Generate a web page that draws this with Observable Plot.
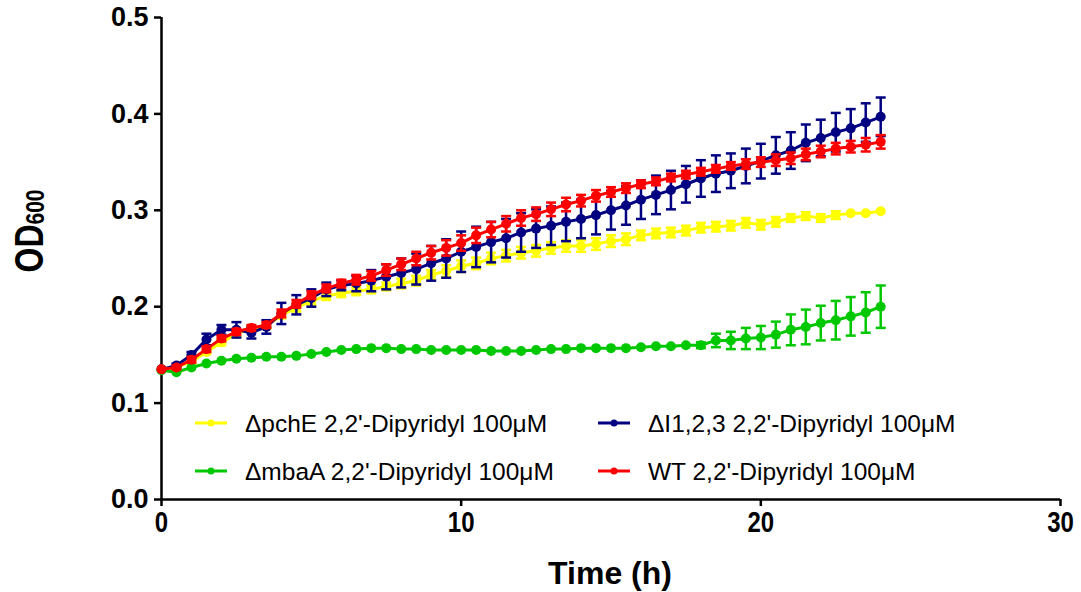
<!DOCTYPE html>
<html><head><meta charset="utf-8">
<script src="https://cdn.jsdelivr.net/npm/d3@7"></script>
<script src="https://cdn.jsdelivr.net/npm/@observablehq/plot@0.6"></script>
<style>body{margin:0;background:#fff;} svg{display:block;}</style>
</head><body><div id="chart"></div>
<script>
// Time points (h)
const time = [0,0.5,1,1.5,2,2.5,3,3.5,4,4.5,5,5.5,6,6.5,7,7.5,8,8.5,9,9.5,10,10.5,11,11.5,12,12.5,13,13.5,14,14.5,15,15.5,16,16.5,17,17.5,18,18.5,19,19.5,20,20.5,21,21.5,22,22.5,23,23.5,24];

// ΔpchE (yellow)
const pchE = [0.135,0.137,0.143,0.153,0.163,0.172,0.177,0.180,0.191,0.199,0.206,0.211,0.214,0.216,0.218,0.221,0.224,0.227,0.233,0.237,0.242,0.245,0.250,0.253,0.256,0.258,0.261,0.263,0.263,0.265,0.268,0.270,0.274,0.276,0.277,0.279,0.282,0.283,0.284,0.287,0.285,0.288,0.292,0.294,0.292,0.295,0.297,0.297,0.299];
const pchE_err = [0,0.001,0.002,0.002,0.003,0.003,0.003,0.003,0.003,0.004,0.004,0.004,0.004,0.004,0.004,0.004,0.005,0.005,0.005,0.006,0.006,0.006,0.006,0.006,0.006,0.006,0.006,0.006,0.006,0.006,0.006,0.006,0.005,0.005,0.005,0.005,0.005,0.005,0.005,0.005,0.005,0.005,0.004,0.004,0.004,0.004,0,0,0];

// ΔI1,2,3 (navy)
const dI123 = [0.135,0.139,0.150,0.166,0.176,0.176,0.173,0.179,0.193,0.202,0.209,0.218,0.222,0.224,0.227,0.231,0.235,0.239,0.245,0.250,0.257,0.262,0.267,0.271,0.277,0.281,0.284,0.288,0.291,0.295,0.300,0.305,0.311,0.316,0.321,0.327,0.333,0.338,0.341,0.346,0.351,0.357,0.362,0.370,0.375,0.381,0.385,0.391,0.397];
const dI123_err = [0,0.002,0.003,0.006,0.005,0.008,0.006,0.007,0.011,0.010,0.009,0.007,0.005,0.008,0.011,0.013,0.015,0.016,0.018,0.020,0.021,0.021,0.021,0.020,0.020,0.020,0.020,0.020,0.020,0.020,0.020,0.020,0.020,0.020,0.020,0.019,0.019,0.019,0.018,0.018,0.018,0.019,0.019,0.019,0.019,0.020,0.020,0.020,0.020];

// ΔmbaA (green)
const mbaA = [0.134,0.132,0.137,0.141,0.144,0.146,0.147,0.148,0.148,0.149,0.151,0.153,0.155,0.156,0.157,0.157,0.156,0.156,0.155,0.155,0.155,0.155,0.154,0.154,0.154,0.155,0.156,0.156,0.157,0.157,0.157,0.157,0.158,0.159,0.159,0.160,0.160,0.165,0.165,0.167,0.168,0.171,0.176,0.179,0.183,0.186,0.190,0.194,0.200];
const mbaA_err = [0,0,0,0,0,0,0,0,0,0,0,0,0,0,0,0,0,0,0,0,0,0,0,0,0,0,0,0,0,0,0,0,0,0,0,0,0.003,0.007,0.009,0.011,0.012,0.0135,0.016,0.018,0.018,0.020,0.020,0.021,0.022];

// WT (red)
const wt = [0.135,0.137,0.145,0.156,0.167,0.174,0.178,0.181,0.193,0.203,0.212,0.219,0.224,0.228,0.232,0.238,0.244,0.250,0.256,0.261,0.266,0.274,0.280,0.286,0.292,0.296,0.301,0.306,0.310,0.315,0.319,0.323,0.327,0.330,0.334,0.337,0.340,0.343,0.346,0.348,0.350,0.352,0.354,0.358,0.361,0.364,0.366,0.368,0.371];
const wt_err = [0,0.002,0.003,0.003,0.003,0.003,0.003,0.003,0.004,0.004,0.004,0.004,0.004,0.005,0.005,0.006,0.006,0.007,0.007,0.008,0.008,0.008,0.008,0.008,0.008,0.007,0.007,0.007,0.006,0.006,0.005,0.005,0.004,0.004,0.004,0.004,0.004,0.004,0.004,0.005,0.005,0.006,0.006,0.006,0.006,0.006,0.006,0.007,0.007];

const seriesNames = ["\u0394pchE 2,2'-Dipyridyl 100\u03bcM", "\u0394I1,2,3 2,2'-Dipyridyl 100\u03bcM", "\u0394mbaA 2,2'-Dipyridyl 100\u03bcM", "WT 2,2'-Dipyridyl 100\u03bcM"];
const seriesColors = ["#FFFF00", "#000080", "#00C800", "#FF0000"];
const seriesValues = [pchE, dI123, mbaA, wt];
const seriesErrors = [pchE_err, dI123_err, mbaA_err, wt_err];

const xTicks = [0, 10, 20, 30];
const yTicks = [0, 0.1, 0.2, 0.3, 0.4, 0.5];

const capSymbol = { draw(ctx) { ctx.moveTo(-5, 0); ctx.lineTo(5, 0); } };

const seriesMarks = [];
seriesValues.forEach((vals, i) => {
  const rows = time.map((t, j) => ({t, y: vals[j], e: seriesErrors[i][j]}));
  const errRows = rows.filter(d => d.e > 0);
  const color = seriesColors[i];
  seriesMarks.push(
    Plot.ruleX(errRows, {x: "t", y1: d => d.y - d.e, y2: d => d.y + d.e, stroke: color, strokeWidth: 2.5}),
    Plot.dot(errRows, {x: "t", y: d => d.y + d.e, symbol: capSymbol, r: 5, stroke: color, strokeWidth: 2.5, fill: "none"}),
    Plot.dot(errRows, {x: "t", y: d => d.y - d.e, symbol: capSymbol, r: 5, stroke: color, strokeWidth: 2.5, fill: "none"}),
    Plot.line(rows, {x: "t", y: "y", stroke: color, strokeWidth: 3}),
    Plot.dot(rows, {x: "t", y: "y", r: 5, fill: color, stroke: "none"})
  );
});

const chart = Plot.plot({
  width: 1081, height: 592,
  marginLeft: 161, marginRight: 21, marginTop: 17, marginBottom: 93,
  x: {domain: [0, 30]},
  y: {domain: [0, 0.5]},
  style: {fontFamily: "'Liberation Sans', Arial, sans-serif", fontWeight: "bold", fontSize: "24px", color: "#000", background: "#fff"},
  marks: [
    Plot.axisX({ticks: xTicks, tickSize: 7, tickPadding: 5, strokeWidth: 2.5, label: null, fontSize: 24, tickFormat: d => String(d)}),
    Plot.axisY({ticks: yTicks, tickSize: 7, tickPadding: 6, strokeWidth: 2.5, label: null, fontSize: 27, tickFormat: d3.format(".1f")}),
    Plot.ruleY([0], {stroke: "#000", strokeWidth: 2.5}),
    Plot.ruleX([0], {stroke: "#000", strokeWidth: 2.5}),
    ...seriesMarks
  ]
});
document.getElementById("chart").appendChild(chart);

const svg = d3.select(chart);
// Slightly taller x tick labels, as in the reference
svg.selectAll('g[aria-label="x-axis tick label"] text').each(function() {
  const tr = this.getAttribute("transform") || "";
  this.setAttribute("transform", tr + " scale(1,1.2)");
});

// Axis titles
svg.append("text").attr("x", 610).attr("y", 584).attr("text-anchor", "middle")
  .attr("font-size", 32).attr("font-weight", "bold").attr("fill", "#000").text("Time (h)");
const yl = svg.append("text").attr("transform", "translate(43,231) rotate(-90) scale(1,1.25)").attr("text-anchor", "middle")
  .attr("font-size", 32).attr("font-weight", "bold").attr("fill", "#000");
yl.append("tspan").text("OD");
yl.append("tspan").attr("font-size", 21).attr("dy", 1).text("600");

// Legend
const legendPos = [[195, 423], [598, 423], [195, 471], [598, 471]];
seriesNames.forEach((name, i) => {
  const [lx, ly] = legendPos[i];
  const g = svg.append("g");
  g.append("line").attr("x1", lx).attr("x2", lx + 32).attr("y1", ly).attr("y2", ly)
    .attr("stroke", seriesColors[i]).attr("stroke-width", 3);
  g.append("circle").attr("cx", lx + 16).attr("cy", ly).attr("r", 3.5).attr("fill", seriesColors[i]);
  g.append("text").attr("x", lx + 50).attr("y", ly + 9).attr("text-anchor", "start")
    .attr("font-size", 24.5).attr("font-weight", "normal").attr("fill", "#000").text(name);
});
</script>
</body></html>
